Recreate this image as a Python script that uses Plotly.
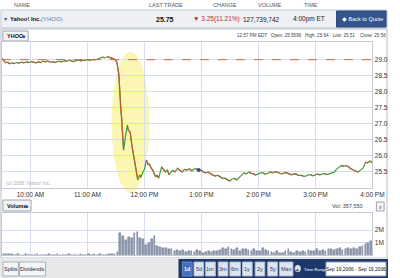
import plotly.graph_objects as go
import pandas as pd

DAY = "2006-09-19 "
price_times = ["09:30","09:32","09:34","09:36","09:38","09:41","09:43","09:46","09:48","09:51",
               "09:53","09:56","09:58","10:01","10:03","10:06","10:08","10:11","10:13","10:16",
               "10:18","10:21","10:23","10:26","10:28","10:31","10:33","10:36","10:38","10:41",
               "10:43","10:46","10:48","10:51","10:53","10:56","10:58","11:01","11:03","11:06",
               "11:08","11:11","11:13","11:16","11:18","11:21","11:23","11:26","11:28","11:30",
               "11:31","11:33","11:34","11:35","11:36","11:38","11:40","11:42","11:43","11:45",
               "11:47","11:50","11:53","11:55","11:56","11:58","12:00","12:02","12:03","12:04",
               "12:05","12:07","12:09","12:10","12:12","12:13","12:15","12:17","12:18","12:20",
               "12:22","12:24","12:26","12:28","12:30","12:32","12:35","12:37","12:40","12:42",
               "12:45","12:47","12:50","12:52","12:54","12:57","13:00","13:02","13:05","13:07",
               "13:10","13:12","13:15","13:17","13:20","13:22","13:25","13:27","13:30","13:32",
               "13:35","13:37","13:40","13:42","13:45","13:47","13:50","13:52","13:55","13:57",
               "14:00","14:02","14:05","14:07","14:10","14:12","14:15","14:17","14:20","14:22",
               "14:25","14:27","14:30","14:32","14:35","14:37","14:40","14:42","14:45","14:47",
               "14:50","14:52","14:55","14:57","15:00","15:02","15:05","15:07","15:10","15:12",
               "15:15","15:17","15:20","15:22","15:25","15:27","15:30","15:32","15:35","15:37",
               "15:40","15:42","15:45","15:47","15:50","15:52","15:53","15:55","15:57","15:59",
               "16:00"]
prices = [29.04,28.97,28.90,28.92,28.87,28.90,28.88,28.91,28.89,28.92,
          28.90,28.93,28.91,28.94,28.92,28.90,28.93,28.91,28.95,28.93,
          28.96,28.92,28.94,28.91,28.93,28.95,28.93,28.97,28.95,28.98,
          28.96,28.94,28.97,28.99,28.96,28.98,28.97,29.00,28.98,29.01,
          28.99,29.03,29.06,29.08,29.06,29.09,29.07,29.05,29.02,28.97,
          28.92,28.55,28.00,27.43,27.21,26.18,26.60,26.96,26.80,26.74,
          26.28,25.78,25.25,25.41,25.33,25.47,25.58,25.87,25.80,25.72,
          25.76,25.62,25.55,25.45,25.34,25.40,25.31,25.55,25.66,25.58,
          25.50,25.56,25.41,25.50,25.55,25.50,25.62,25.55,25.50,25.58,
          25.56,25.60,25.53,25.58,25.60,25.56,25.55,25.50,25.47,25.50,
          25.44,25.40,25.37,25.40,25.34,25.30,25.31,25.26,25.22,25.28,
          25.30,25.25,25.34,25.40,25.47,25.44,25.50,25.46,25.44,25.40,
          25.43,25.47,25.47,25.43,25.45,25.50,25.47,25.51,25.50,25.46,
          25.44,25.48,25.47,25.44,25.41,25.44,25.43,25.39,25.40,25.37,
          25.37,25.41,25.41,25.38,25.40,25.43,25.41,25.44,25.44,25.42,
          25.45,25.48,25.50,25.58,25.66,25.70,25.68,25.70,25.66,25.60,
          25.56,25.53,25.50,25.55,25.62,25.75,25.81,25.78,25.84,25.80,
          25.86]
prev_close = 29.00
marker_time = "12:57"

vol_start = "09:30"
vol_step_min = 3
volumes_m = [0.12,0.08,0.06,0.05,0.04,0.06,0.03,0.04,0.05,0.03,
             0.04,0.03,0.05,0.04,0.03,0.04,0.06,0.03,0.04,0.05,
             0.03,0.04,0.03,0.05,0.04,0.03,0.04,0.05,0.03,0.04,
             0.05,0.04,0.06,0.04,0.05,0.03,0.04,0.06,0.05,0.07,
             0.25,1.80,1.55,1.20,1.45,1.35,1.75,1.85,1.40,1.30,
             0.80,1.00,1.25,1.50,0.70,0.65,0.55,0.60,0.45,0.50,
             0.35,0.40,0.30,0.38,0.28,0.35,0.30,0.25,0.40,0.35,
             0.20,0.25,0.30,0.22,0.35,0.30,0.40,0.55,0.45,0.65,
             0.50,0.40,0.55,0.35,0.45,0.50,0.40,0.30,0.45,0.35,
             0.30,0.55,0.40,0.30,0.25,0.20,0.30,0.15,0.20,0.35,
             0.45,0.25,0.20,0.30,0.25,0.35,0.28,0.40,0.30,0.35,
             0.45,0.30,0.40,0.35,0.45,0.50,0.40,0.45,0.55,0.40,
             0.50,0.55,0.45,0.60,0.50,0.65,0.70,0.85,0.95,1.10]

x_tickvals = ["10:00","11:00","12:00","13:00","14:00","15:00","16:00"]
x_ticktext = ["10:00 AM","11:00 AM","12:00 PM","1:00 PM","2:00 PM","3:00 PM","4:00 PM"]
y_ticks = [25.5,26.0,26.5,27.0,27.5,28.0,28.5,29.0]
vol_ticks = [1,2]
vol_ticktext = ["1M","2M"]

assert len(price_times) == len(prices)

# ---------------------------------------------------------------
W, H = 400, 278
def px(x): return x / W
def py(y): return 1 - y / H

pt = pd.to_datetime([DAY + t for t in price_times])
vt = pd.to_datetime(DAY + vol_start) + pd.to_timedelta([vol_step_min * i + vol_step_min / 2 for i in range(len(volumes_m))], unit="min")

GREEN = "#3f9c3a"
RED = "#c25a3a"
FONT = "Liberation Sans"

fig = go.Figure()

fig.add_trace(go.Scatter(x=pt, y=prices, mode="lines", line=dict(color=GREEN, width=1.2),
                         xaxis="x", yaxis="y", hoverinfo="skip"))
rx, ry = [], []
for i in range(len(prices) - 1):
    if prices[i + 1] < prices[i]:
        rx += [pt[i], pt[i + 1], None]
        ry += [prices[i], prices[i + 1], None]
fig.add_trace(go.Scatter(x=rx, y=ry, mode="lines", line=dict(color=RED, width=1.2),
                         xaxis="x", yaxis="y", hoverinfo="skip", connectgaps=False))
mi = price_times.index(marker_time)
fig.add_trace(go.Scatter(x=[pt[mi]], y=[prices[mi]], mode="markers",
                         marker=dict(color="#2a4fa0", size=4), xaxis="x", yaxis="y"))

fig.add_trace(go.Bar(x=vt, y=volumes_m, width=vol_step_min * 60000 * 0.6,
                     marker=dict(color="#8f9aae", line=dict(color="#5e6a80", width=0.4)),
                     xaxis="x2", yaxis="y2"))

xrange = [pd.Timestamp(DAY + "09:30"), pd.Timestamp(DAY + "16:00")]
xtv = [pd.Timestamp(DAY + t) for t in x_tickvals]
GRID = "#d6ddee"

axis_common = dict(showgrid=True, gridcolor=GRID, gridwidth=1, zeroline=False,
                   showline=True, linecolor="#c4c9d4", linewidth=1, mirror=True)

fig.update_layout(
    width=W, height=H, margin=dict(l=0, r=0, t=0, b=0),
    paper_bgcolor="#ffffff", plot_bgcolor="rgba(0,0,0,0)",
    showlegend=False, bargap=0,
    xaxis=dict(domain=[px(2), px(384)], range=xrange, tickvals=xtv, ticktext=x_ticktext,
               tickfont=dict(family=FONT, size=6.5, color="#333"), ticks="", anchor="y", **axis_common),
    yaxis=dict(domain=[py(188), py(42)], range=[25.0, 29.55], side="right", tickvals=y_ticks,
               tickformat=".1f", tickfont=dict(family=FONT, size=6.5, color="#333"), ticks="",
               anchor="x", **axis_common),
    xaxis2=dict(domain=[px(2), px(384)], range=xrange, tickvals=xtv, showticklabels=False,
                ticks="", anchor="y2", matches="x", **axis_common),
    yaxis2=dict(domain=[py(255), py(213)], range=[0, 3.36], side="right", tickvals=vol_ticks,
                ticktext=vol_ticktext, tickfont=dict(family=FONT, size=6.5, color="#333"),
                ticks="", anchor="x2", **axis_common),
)

shapes = []
def rect(x0, y0, x1, y1, fill, line=None, lw=1, layer="below"):
    shapes.append(dict(type="rect", xref="paper", yref="paper", x0=px(x0), x1=px(x1),
                       y0=py(y1), y1=py(y0), fillcolor=fill,
                       line=dict(color=line or fill, width=lw if line else 0), layer=layer))

rect(0, 0, 400, 10, "#ffffff")
rect(1, 10, 399, 28, "#eef0f5", "#c3c8d3")
rect(347, 11, 398, 27, "#33548c", "#284575")
rect(1, 29, 399, 258, "#ffffff", "#b8bdc8")
rect(2, 42, 384, 188, "#ffffff")
shapes.append(dict(type="circle", xref="paper", yref="paper", x0=px(115), x1=px(154),
                   y0=py(193), y1=py(52), fillcolor="#fbf6b0", line=dict(width=0), layer="below",
                   opacity=0.95))
rect(3, 31, 29, 41, "#f3f3f3", "#9ca3b0")
rect(3, 200, 32, 211, "#f3f3f3", "#9ca3b0")
rect(388, 202, 396, 211, "#f3f3f3", "#9ca3b0")
rect(0, 258, 400, 278, "#e7e8ea")
rect(3, 262, 19, 276, "#f4f5f7", "#aab0bb")
rect(20, 262, 47, 276, "#f4f5f7", "#aab0bb")
rect(184, 259, 400, 278, "#1c3768")
btn_x = [(188, 198), (200, 210), (212, 222), (225, 235), (237, 248), (250, 260), (263, 273), (276, 286), (288, 302)]
for i, (a, b) in enumerate(btn_x):
    rect(a, 262, b, 276, "#3f6fc0" if i == 0 else "#dfe5f0", "#6f8bbf" if i == 0 else "#a9b6cc")
shapes.append(dict(type="circle", xref="paper", yref="paper", x0=px(304), x1=px(310),
                   y0=py(272), y1=py(265), fillcolor="#dfe5f0", line=dict(color="#9fb0cc", width=0.5)))
rect(336, 262, 398, 276, "#ffffff", "#8a97b0")
shapes.append(dict(type="line", xref="x", yref="y", x0=xrange[0], x1=xrange[1], y0=prev_close, y1=prev_close,
                   line=dict(color="#d4694a", width=1, dash="dash"), layer="above"))
fig.update_layout(shapes=shapes)

ann = []
def text(x, y, s, size=6, color="#333", anchor="left", bold=False, family=FONT):
    if bold:
        s = "<b>" + s + "</b>"
    ann.append(dict(x=px(x), y=py(y), xref="paper", yref="paper", text=s, showarrow=False,
                    xanchor=anchor, yanchor="middle", font=dict(size=size, color=color, family=family)))

text(12, 5, "NAME", 5.5, "#555")
text(152, 5, "LAST TRADE", 5.5, "#555")
text(218, 5, "CHANGE", 5.5, "#555")
text(264, 5, "VOLUME", 5.5, "#555")
text(311, 5, "TIME", 5.5, "#555")
text(2.5, 19, "▾", 6, "#3a5fa8")
text(8, 19, "Yahoo! Inc.", 5.8, "#111", bold=True)
text(40, 19, "(YHOO)", 6, "#6a7aa0")
text(181, 19, "25.75", 7, "#111", anchor="right", bold=True)
text(197, 19, "▼ 3.25(11.21%)", 6.5, "#c0282a")
text(248, 19, "127,739,742", 6.5, "#222")
text(300, 19, "4:00pm ET", 6.5, "#222")
text(350, 19, "◆ Back to Quote", 5.5, "#ffffff")
text(5, 36, "YHOO", 5.5, "#111", bold=True)
text(21, 36, "■", 5, "#2a4fa0")
text(242, 36, "12:57 PM EDT   Open: 25.5596   High: 25.64   Low: 25.51    Close: 25.56", 4.6, "#444")
text(4, 183, "(c) 2006 Yahoo! Inc.", 5, "#a8adb8")
text(5, 205.5, "Volume", 5.5, "#111", bold=True)
text(24, 205.5, "■", 5, "#2a4fa0")
text(376, 205.5, "Vol: 357,550", 5.5, "#444", anchor="right")
text(392, 206.5, "x", 5.5, "#555", anchor="center")
text(11, 269, "Splits", 5.5, "#223", anchor="center")
text(33.5, 269, "Dividends", 5.5, "#223", anchor="center")
labels = ["1d", "5d", "1m", "3m", "6m", "1y", "2y", "5y", "Max"]
for i, (a, b) in enumerate(btn_x):
    text((a + b) / 2, 269, labels[i], 5.5, "#ffffff" if i == 0 else "#1c3768", anchor="center", bold=(i == 0))
text(307, 268.5, "▴", 5, "#1c3768", anchor="center")
text(311, 269, "Time Range", 4.2, "#ffffff")
text(367, 269, "Sep 19,2006 - Sep 19,2006", 4.9, "#111", anchor="center")
fig.update_layout(annotations=ann)

fig.write_html("out.html")
